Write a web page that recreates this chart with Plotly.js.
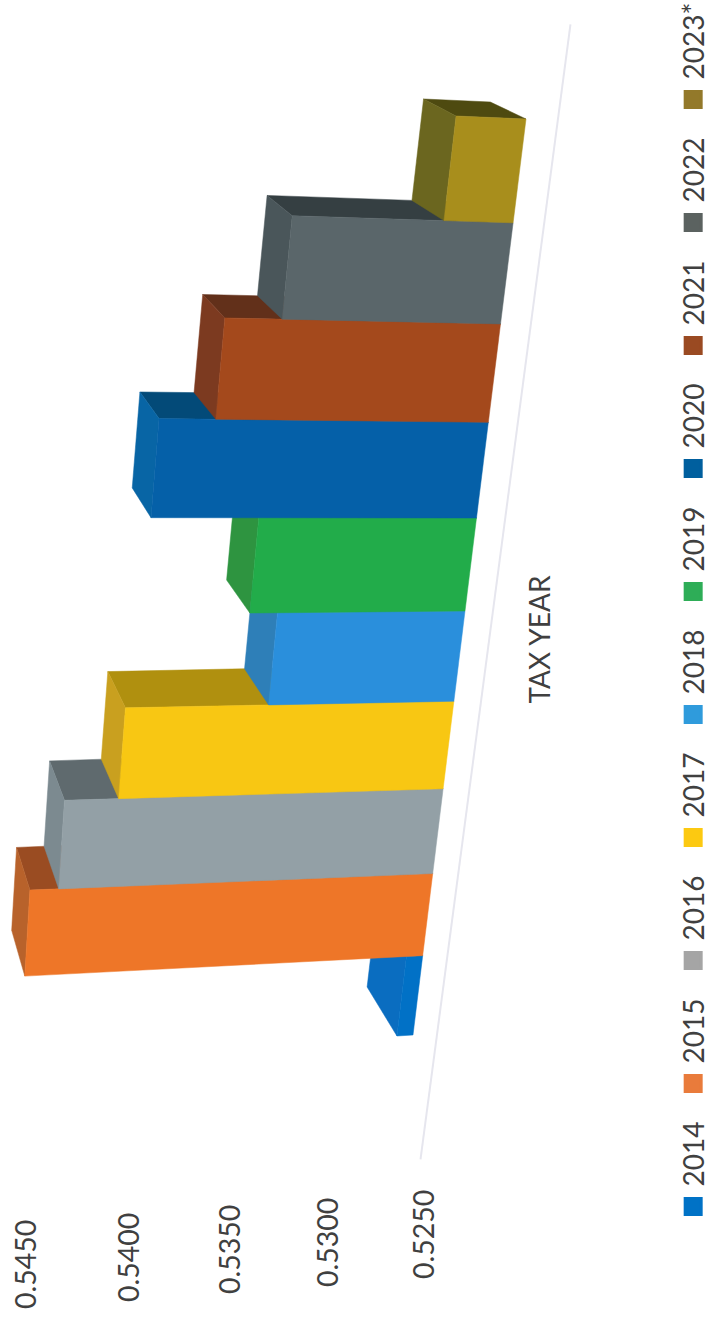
<!DOCTYPE html>
<html>
<head>
<meta charset="utf-8">
<script src="https://cdn.plot.ly/plotly-3.0.1.min.js"></script>
<style>
  html, body { margin: 0; padding: 0; background: #fff; overflow: hidden; width: 718px; height: 1321px; }
  /* The chart is laid out landscape and turned a quarter turn, as a scanned sheet. */
  #sheet { position: absolute; left: 0; top: 0; width: 1321px; height: 718px;
           transform-origin: 0 0; transform: translateY(1321px) rotate(-90deg); }
</style>
</head>
<body>
<div id="sheet"></div>
<script>
// Tax-year rates
const years = ['2014','2015','2016','2017','2018','2019','2020','2021','2022','2023*'];
const rates = [0.5258,0.5446,0.5432,0.5406,0.5338,0.5351,0.5401,0.5375,0.5349,0.5281];
const tickValues = [0.5250,0.5300,0.5350,0.5400,0.5450];
const tickLabels = ['0.5250','0.5300','0.5350','0.5400','0.5450'];

// Shades per series
const legendColors = ['#0072C6','#E97B3B','#A5A5A5','#FCC911','#2F9BDC','#2EAD57','#005F9E','#9A4A22','#5B6260','#93792A'];
const frontColors  = ['#0171C6','#EE7628','#93A0A6','#F8C713','#2A8FDC','#22AC4A','#0560A8','#A4491C','#5A666A','#A88E1C'];
const endColors    = ['#0A6DC0','#B8622B','#7C8A90','#C9A01F','#2E7FB8','#2E9440','#0865A5','#7C3A20','#4A565A','#6B661F'];
const upperColors  = ['#055A96','#9A4C22','#5F6A6E','#B0900F','#22699A','#207A35','#034A78','#62301A','#353F42','#4E4A10'];

const FLOOR = 0.525;
const fontFamily = 'Lato, sans-serif';
const inkColor = '#404040';

// Perspective of the 3-D columns, expressed in axis units:
// x runs along the floor (one unit is a nominal column slot), y is the rate scale.
const PX_PER_SLOT = 78, PX_PER_RATE = 20300, FLOOR_PX = 424, SLOT0_PX = 1035;
function project(slot, rate, depth) {
  const baseAcross = 413 + 9.5 * slot + 0.18 * slot * slot;
  const baseAlong  = 1035 - 78 * slot - 1.36 * slot * slot;
  const run = (rate - FLOOR) * 20050 * (1 + 0.0125 * slot);
  let across = baseAcross - run;
  let along  = baseAlong + run * 0.0105 * (5.9 - slot);
  across -= depth * (12 + 0.045 * across);
  along  -= depth * (49 - 3.2 * slot);
  return [(SLOT0_PX - along) / PX_PER_SLOT, FLOOR + (FLOOR_PX - across) / PX_PER_RATE];
}
function face(points, color) {
  const xy = points.map(p => project(p[0], p[1], p[2]));
  return { type: 'scatter', mode: 'lines', x: xy.map(p => p[0]).concat(xy[0][0]), y: xy.map(p => p[1]).concat(xy[0][1]),
           fill: 'toself', fillcolor: color, line: { color: color, width: 0.5 },
           showlegend: false, hoverinfo: 'skip' };
}

const traces = [];

// Floor edge
const floorEnds = [project(-1.2, FLOOR, -0.62), project(11, FLOOR, -0.86)];
traces.push({ type: 'scatter', mode: 'lines', x: floorEnds.map(p => p[0]), y: floorEnds.map(p => p[1]),
              line: { color: '#E6E6EE', width: 2 }, showlegend: false, hoverinfo: 'skip' });

// Columns, nearest slot last so it overlaps its neighbour's back faces
years.forEach((year, i) => {
  const r = rates[i];
  traces.push(face([[i + 1, r, 1], [i + 1, FLOOR, 1], [i + 1, FLOOR, 0], [i + 1, r, 0]], upperColors[i]));
  traces.push(face([[i, r, 1], [i + 1, r, 1], [i + 1, r, 0], [i, r, 0]], endColors[i]));
  traces.push(face([[i, FLOOR, 0], [i + 1, FLOOR, 0], [i + 1, r, 0], [i, r, 0]], frontColors[i]));
});

// Legend keys
years.forEach((year, i) => {
  traces.push({ type: 'scatter', mode: 'markers', name: year, x: [null], y: [null],
                marker: { symbol: 'square', size: 16, color: legendColors[i], line: { color: legendColors[i], width: 3 } } });
});

// Rate labels follow the receding wall of the chart
const annotations = tickValues.map((v, t) => ({
  x: (SLOT0_PX - (1234.5 + 7.6 * t)) / PX_PER_SLOT,
  y: FLOOR + (FLOOR_PX - (423 - 94.9 * t - 1.125 * t * t)) / PX_PER_RATE,
  xref: 'x', yref: 'y', text: tickLabels[t], showarrow: false, textangle: 0,
  xanchor: 'center', yanchor: 'middle',
  font: { family: fontFamily, size: 28.5, color: inkColor }
}));

const PLOT_H = 590, MARGIN_L = 42, W = 1321, H = 718;
const xRange = [(SLOT0_PX - (W - MARGIN_L)) / PX_PER_SLOT, SLOT0_PX / PX_PER_SLOT];
const yRange = [FLOOR + (FLOOR_PX - PLOT_H) / PX_PER_RATE, FLOOR + FLOOR_PX / PX_PER_RATE];

const layout = {
  width: W, height: H,
  margin: { l: MARGIN_L, r: 0, t: 0, b: H - PLOT_H, pad: 0, autoexpand: false },
  paper_bgcolor: '#fff', plot_bgcolor: 'rgba(0,0,0,0)',
  font: { family: fontFamily, color: inkColor, size: 28 },
  xaxis: { range: xRange, anchor: 'free', position: 0.136, showgrid: false, zeroline: false, showline: false, ticks: '', showticklabels: false,
           automargin: false, title: { text: 'TAX YEAR', standoff: 20, font: { family: fontFamily, size: 28, color: inkColor } } },
  yaxis: { range: yRange, showgrid: false, zeroline: false, showline: false, ticks: '', showticklabels: false, automargin: false },
  showlegend: true,
  legend: { orientation: 'h', x: 0.041, xanchor: 'left', y: -0.133, yanchor: 'top',
            entrywidth: 78, entrywidthmode: 'pixels', font: { family: fontFamily, size: 28, color: inkColor },
            bgcolor: 'rgba(0,0,0,0)', borderwidth: 0 },
  annotations: annotations
};

Plotly.newPlot('sheet', traces, layout, { displayModeBar: false, staticPlot: true });
</script>
</body>
</html>
